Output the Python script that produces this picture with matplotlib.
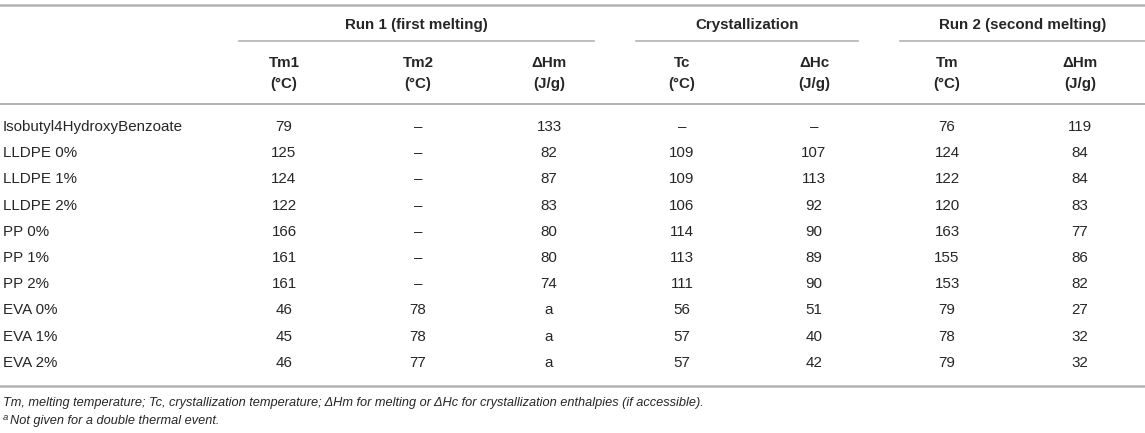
import matplotlib.pyplot as plt
import matplotlib
matplotlib.rcParams['font.family'] = ['Liberation Sans', 'DejaVu Sans']

# data
samples = ['Isobutyl4HydroxyBenzoate', 'LLDPE 0%', 'LLDPE 1%', 'LLDPE 2%',
           'PP 0%', 'PP 1%', 'PP 2%', 'EVA 0%', 'EVA 1%', 'EVA 2%']
tm1 = ['79', '125', '124', '122', '166', '161', '161', '46', '45', '46']
tm2 = ['–', '–', '–', '–', '–', '–', '–', '78', '78', '77']
dhm1 = ['133', '82', '87', '83', '80', '80', '74', 'a', 'a', 'a']
tc = ['–', '109', '109', '106', '114', '113', '111', '56', '57', '57']
dhc = ['–', '107', '113', '92', '90', '89', '90', '51', '40', '42']
tm_run2 = ['76', '124', '122', '120', '163', '155', '153', '79', '78', '79']
dhm2 = ['119', '84', '84', '83', '77', '86', '82', '27', '32', '32']

groups = ['Run 1 (first melting)', 'Crystallization', 'Run 2 (second melting)']
col_headers = [('Tm1', '(°C)'), ('Tm2', '(°C)'), ('ΔHm', '(J/g)'),
               ('Tc', '(°C)'), ('ΔHc', '(J/g)'),
               ('Tm', '(°C)'), ('ΔHm', '(J/g)')]
footnote1 = ('Tm, melting temperature; Tc, crystallization temperature; '
             'ΔHm for melting or ΔHc for crystallization enthalpies (if accessible).')
footnote2 = 'Not given for a double thermal event.'

columns = [tm1, tm2, dhm1, tc, dhc, tm_run2, dhm2]

# layout (pixel coordinates)
W, H = 1145, 433
col_x = [284, 418, 549, 682, 814, 947, 1080]
group_spans = [(239, 594), (636, 858), (900, 1145)]
row_y0, row_dy = 127, 26.2
line_color = '#b3b3b3'
text_color = '#262626'
fs = 10.9

fig = plt.figure(figsize=(W / 100, H / 100), dpi=100)
ax = fig.add_axes([0, 0, 1, 1])
ax.set_xlim(0, W)
ax.set_ylim(H, 0)
ax.axis('off')

# rules
ax.plot([0, W], [4.5, 4.5], color=line_color, lw=1.8)
ax.plot([0, W], [104, 104], color=line_color, lw=1.4)
ax.plot([0, W], [386, 386], color=line_color, lw=1.8)
for (x0, x1), g in zip(group_spans, groups):
    ax.plot([x0, x1], [41, 41], color=line_color, lw=1.2)
    ax.text((x0 + x1) / 2, 24.5, g, ha='center', va='center', fontsize=fs,
            fontweight='bold', color=text_color)

# column headers
for x, (top, unit) in zip(col_x, col_headers):
    ax.text(x, 63, top, ha='center', va='center', fontsize=fs,
            fontweight='bold', color=text_color)
    ax.text(x, 84, unit, ha='center', va='center', fontsize=fs,
            fontweight='bold', color=text_color)

# body
for i, name in enumerate(samples):
    y = row_y0 + i * row_dy
    ax.text(3, y, name, ha='left', va='center', fontsize=fs, color=text_color)
    for x, col in zip(col_x, columns):
        ax.text(x, y, col[i], ha='center', va='center', fontsize=fs,
                color=text_color)

# footnotes
ax.text(3, 403, footnote1, ha='left', va='center', fontsize=9.2,
        style='italic', color=text_color)
ax.text(3, 418, 'a', ha='left', va='center', fontsize=6.8,
        style='italic', color=text_color)
ax.text(9.5, 421, footnote2, ha='left', va='center', fontsize=9.2,
        style='italic', color=text_color)

fig.savefig('out.png', dpi=100)
